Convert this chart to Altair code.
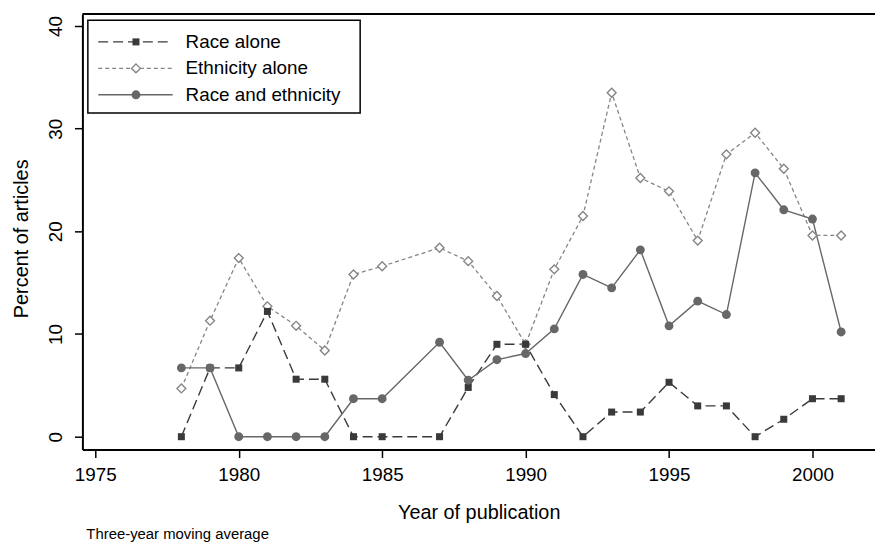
import altair as alt
import pandas as pd

# ---- data (three-year moving averages, %) ----
years = [1978, 1979, 1980, 1981, 1982, 1983, 1984, 1985,
         1987, 1988, 1989, 1990, 1991, 1992, 1993, 1994, 1995,
         1996, 1997, 1998, 1999, 2000, 2001]
race_alone = [0, 6.7, 6.7, 12.2, 5.6, 5.6, 0, 0,
              0, 4.8, 9.0, 9.0, 4.1, 0, 2.4, 2.4, 5.3,
              3.0, 3.0, 0, 1.7, 3.7, 3.7]
ethnicity_alone = [4.7, 11.3, 17.4, 12.7, 10.8, 8.4, 15.8, 16.6,
                   18.4, 17.1, 13.7, 9.0, 16.3, 21.5, 33.5, 25.2, 23.9,
                   19.1, 27.5, 29.6, 26.1, 19.6, 19.6]
race_and_ethnicity = [6.7, 6.7, 0, 0, 0, 0, 3.7, 3.7,
                      9.2, 5.5, 7.5, 8.1, 10.5, 15.8, 14.5, 18.2, 10.8,
                      13.2, 11.9, 25.7, 22.1, 21.2, 10.2]
series_names = ["Race alone", "Ethnicity alone", "Race and ethnicity"]
x_ticks = [1975, 1980, 1985, 1990, 1995, 2000]
y_ticks = [0, 10, 20, 30, 40]

df = pd.DataFrame({
    "year": years,
    "race": race_alone,
    "eth": ethnicity_alone,
    "both": race_and_ethnicity,
})
dummy = pd.DataFrame({"a": [0]})

W, H = 799, 439
FONT = "Liberation Sans"
C_RACE = "#3a3a3a"
C_ETH = "#858585"
C_BOTH = "#676767"

xscale = alt.Scale(domain=[1974.55, 2002.18], nice=False, zero=False)
yscale = alt.Scale(domain=[-1.256, 41.159], nice=False, zero=False)

x_axis = alt.Axis(values=x_ticks, format="d", title="Year of publication",
                  grid=False, domainColor="black", domainWidth=2,
                  tickColor="black", tickWidth=1.5, tickSize=8,
                  labelPadding=8, labelFontSize=19, labelColor="black",
                  labelFont=FONT, titleFont=FONT, titleFontSize=20,
                  titleFontWeight="normal", titleColor="black",
                  titleBaseline="alphabetic", titleY=69)
y_axis = alt.Axis(values=y_ticks, title="Percent of articles",
                  grid=False, domainColor="black", domainWidth=2,
                  tickColor="black", tickWidth=1.5, tickSize=8,
                  labelAngle=270, labelAlign="center",
                  labelBaseline="alphabetic", labelPadding=13,
                  labelFontSize=19, labelColor="black", labelFont=FONT,
                  titleFont=FONT, titleFontSize=20, titleFontWeight="normal",
                  titleColor="black", titleAngle=270, titleAlign="center",
                  titleBaseline="alphabetic", titleX=-55, titleY=226)


def enc(col):
    return dict(
        x=alt.X("year:Q", scale=xscale, axis=x_axis),
        y=alt.Y(f"{col}:Q", scale=yscale, axis=y_axis),
    )


base = alt.Chart(df)

eth_line = base.mark_line(color=C_ETH, strokeWidth=1.3, strokeDash=[4, 3]).encode(**enc("eth"))
eth_pts = base.mark_point(shape="diamond", filled=True, fill="white", stroke=C_ETH,
                          strokeWidth=1.4, size=80, opacity=1).encode(**enc("eth"))
race_line = base.mark_line(color=C_RACE, strokeWidth=1.4, strokeDash=[10, 5]).encode(**enc("race"))
race_pts = base.mark_point(shape="square", filled=True, color=C_RACE,
                           size=50, opacity=1).encode(**enc("race"))
both_line = base.mark_line(color=C_BOTH, strokeWidth=1.4).encode(**enc("both"))
both_pts = base.mark_circle(color=C_BOTH, size=80, opacity=1).encode(**enc("both"))

top_border = alt.Chart(dummy).mark_rule(color="black", strokeWidth=2).encode(
    x=alt.value(0), x2=alt.value(W), y=alt.value(0))

# ---- legend ----
leg_box = alt.Chart(dummy).mark_rect(fill="white", stroke="black", strokeWidth=1.5).encode(
    x=alt.value(5.5), x2=alt.value(280), y=alt.value(6.3), y2=alt.value(99.7))
rows = [28, 54.7, 81.3]
lx1, lx2, lmx, ltx = 16, 91, 54, 104
leg_layers = [
    alt.Chart(dummy).mark_rule(color=C_RACE, strokeWidth=1.4, strokeDash=[10, 5]).encode(
        x=alt.value(lx1), x2=alt.value(lx2), y=alt.value(rows[0])),
    alt.Chart(dummy).mark_point(shape="square", filled=True, color=C_RACE, size=50, opacity=1).encode(
        x=alt.value(lmx), y=alt.value(rows[0])),
    alt.Chart(dummy).mark_rule(color=C_ETH, strokeWidth=1.3, strokeDash=[4, 3]).encode(
        x=alt.value(lx1), x2=alt.value(lx2), y=alt.value(rows[1])),
    alt.Chart(dummy).mark_point(shape="diamond", filled=True, fill="white", stroke=C_ETH,
                                strokeWidth=1.4, size=80, opacity=1).encode(
        x=alt.value(lmx), y=alt.value(rows[1])),
    alt.Chart(dummy).mark_rule(color=C_BOTH, strokeWidth=1.4).encode(
        x=alt.value(lx1), x2=alt.value(lx2), y=alt.value(rows[2])),
    alt.Chart(dummy).mark_circle(color=C_BOTH, size=80, opacity=1).encode(
        x=alt.value(lmx), y=alt.value(rows[2])),
]
for name, ry in zip(series_names, rows):
    leg_layers.append(
        alt.Chart(dummy).mark_text(align="left", baseline="middle", fontSize=19,
                                   font=FONT, color="black").encode(
            x=alt.value(ltx), y=alt.value(ry), text=alt.value(name)))

footnote = alt.Chart(dummy).mark_text(align="left", baseline="alphabetic", fontSize=15,
                                      font=FONT, color="black").encode(
    x=alt.value(4), y=alt.value(H + 90), text=alt.value("Three-year moving average"))

chart = alt.layer(
    eth_line, race_line, both_line, eth_pts, race_pts, both_pts,
    top_border, leg_box, *leg_layers, footnote,
).properties(
    width=W, height=H,
    autosize=alt.AutoSizeParams(type="none"),
    padding={"left": 75, "top": 4, "right": 0, "bottom": 93},
    background="white",
).configure_view(strokeWidth=0)

chart.save("out.html", embed_options={"renderer": "svg", "actions": False})
